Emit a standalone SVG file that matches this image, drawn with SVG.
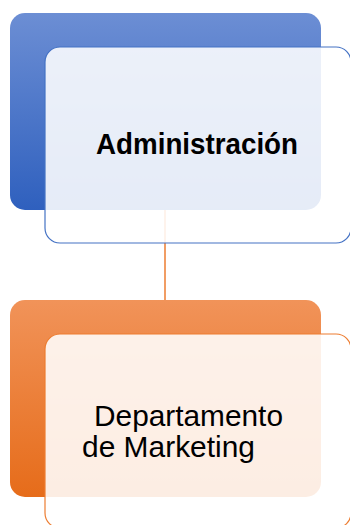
<svg xmlns="http://www.w3.org/2000/svg" width="350" height="525" viewBox="0 0 350 525">
  <defs>
    <linearGradient id="gBlue" x1="0" y1="0" x2="0" y2="1">
      <stop offset="0" stop-color="#6C8ED4"/>
      <stop offset="1" stop-color="#2F60BE"/>
    </linearGradient>
    <linearGradient id="gOrange" x1="0" y1="0" x2="0" y2="1">
      <stop offset="0" stop-color="#F19359"/>
      <stop offset="1" stop-color="#E66C1A"/>
    </linearGradient>
    <style>
      .front { fill: #FFFFFF; fill-opacity: 0.88; stroke-width: 1.2; }
      .label { font-family: "Liberation Sans", Arial, sans-serif; fill: #000000; }
    </style>
  </defs>
  <rect width="350" height="525" fill="#FFFFFF"/>
  <g id="connectors">
    <line x1="165" y1="210" x2="165" y2="300" stroke="#ED7D31" stroke-width="1.5"/>
  </g>
  <g id="node-administracion">
    <rect x="10" y="13" width="311" height="197" rx="15" fill="url(#gBlue)"/>
    <rect class="front" x="45" y="47" width="306" height="196" rx="15" stroke="#4472C4"/>
    <text class="label" x="96" y="154" font-size="30" font-weight="bold" textLength="202" lengthAdjust="spacingAndGlyphs">Administración</text>
  </g>
  <g id="node-marketing">
    <rect x="10" y="300" width="311" height="197" rx="15" fill="url(#gOrange)"/>
    <rect class="front" x="45" y="334" width="306" height="194" rx="15" stroke="#ED7D31"/>
    <text class="label" x="94" y="426" font-size="30" textLength="189" lengthAdjust="spacingAndGlyphs">Departamento</text>
    <text class="label" x="82" y="457" font-size="30" textLength="173" lengthAdjust="spacingAndGlyphs">de Marketing</text>
  </g>
</svg>
